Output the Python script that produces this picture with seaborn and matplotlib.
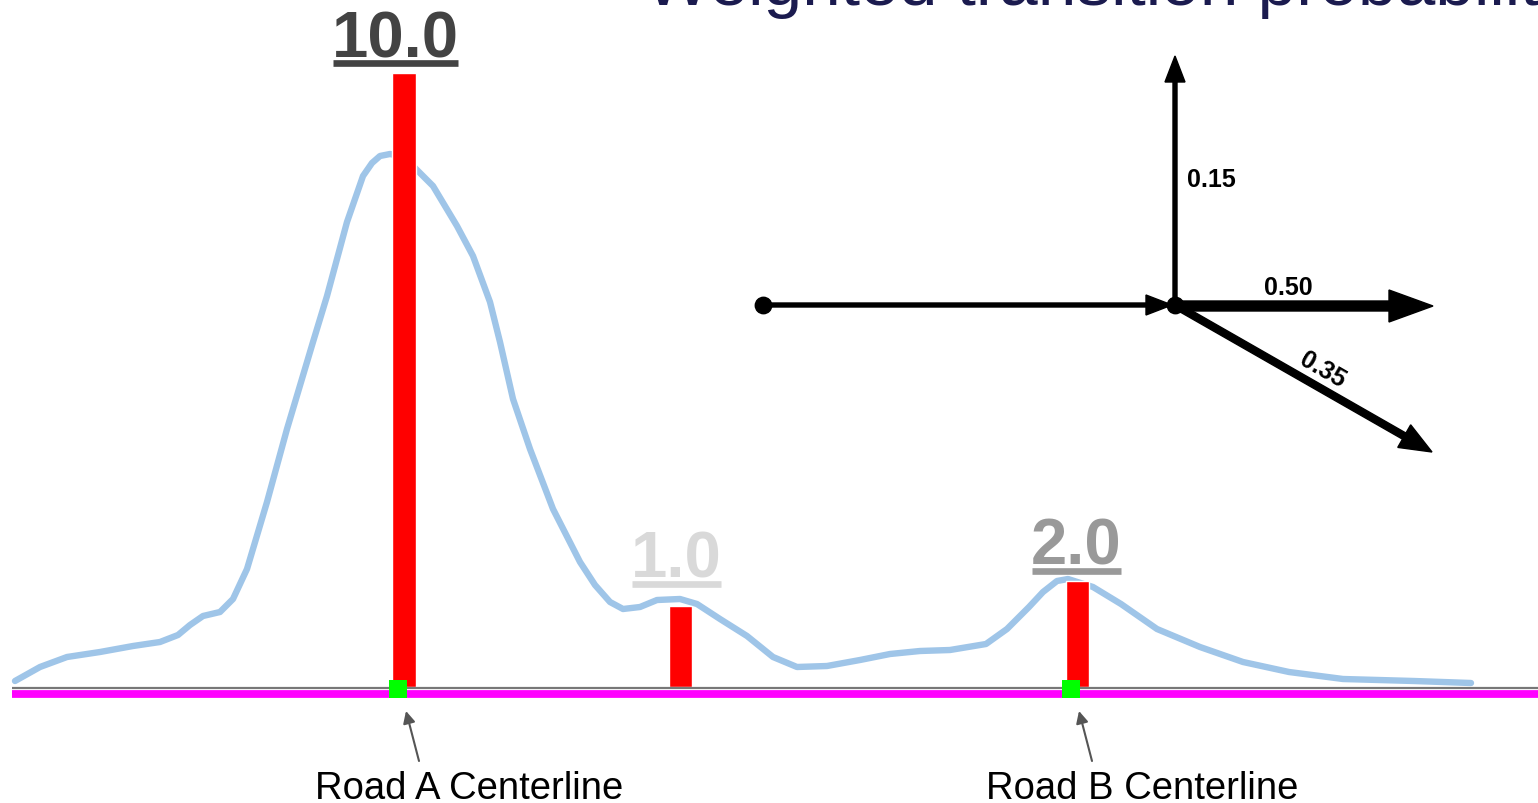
import numpy as np
import pandas as pd
import matplotlib
matplotlib.use('Agg')
import matplotlib.pyplot as plt
import seaborn as sns

# ---- data (pixel units, y grows downwards) ----
curve_x = [15, 40, 67, 100, 133, 160, 178, 190, 203, 220, 233, 247, 267, 287, 313, 327,
           347, 363, 372, 380, 390, 400, 413, 433, 457, 473, 490, 500, 513, 530, 553, 580,
           595, 610, 623, 640, 657, 680, 697, 720, 747, 773, 797, 827, 860, 890, 920, 950,
           986, 1007, 1029, 1043, 1057, 1068, 1093, 1121, 1157, 1200, 1243, 1289, 1343,
           1414, 1471]
curve_y = [682, 668, 658, 653, 647, 643, 636, 626, 617, 613, 600, 570, 503, 430, 343, 297,
           223, 177, 164, 157, 155, 157, 167, 187, 227, 257, 303, 343, 400, 450, 510, 563,
           586, 603, 610, 608, 601, 600, 605, 620, 637, 658, 668, 667, 661, 655, 652, 651,
           645, 630, 608, 593, 582, 580, 588, 605, 630, 648, 663, 673, 680,
           682, 684]

bar_x = [404, 680.5, 1077.5]
bar_top = [74, 607, 582]
bar_width = [24, 23, 23]
bar_labels = ['10.0', '1.0', '2.0']
label_colors = ['#434343', '#d9d9d9', '#999999']

road_x = [398, 1071]
road_names = ['Road A Centerline', 'Road B Centerline']

trans_labels = ['0.15', '0.50', '0.35']

# ---- layout ----
W, H = 1538, 804
baseline_y = 688
label_x = [395, 676, 1076]
label_y = [57, 578, 565]
underline_w = [125, 89, 89]

sns.set_style('white')
plt.rcParams['font.family'] = ['Liberation Sans', 'DejaVu Sans']
plt.rcParams['text.color'] = 'black'

fig = plt.figure(figsize=(W / 100, H / 100), dpi=100)
ax = fig.add_axes([0, 0, 1, 1])

# density curve
df_curve = pd.DataFrame({'x': curve_x, 'y': curve_y})
sns.lineplot(data=df_curve, x='x', y='y', sort=False, color='#9fc5e8',
             linewidth=4.6, ax=ax, zorder=2)
for ln in ax.get_lines():
    ln.set_solid_joinstyle('round')

# red bars
heights = [baseline_y - t for t in bar_top]
ax.bar(bar_x, heights, bottom=bar_top, width=bar_width, color='#ff0000', zorder=3)

# road line
ax.plot([12, W], [694.5, 694.5], color='#ff00ff', lw=5.6, solid_capstyle='butt', zorder=4)
ax.plot([12, W], [689, 689], color='#777777', lw=1.6, solid_capstyle='butt', zorder=4)

# centerline markers
sns.scatterplot(x=road_x, y=[690] * len(road_x), marker='s', s=175, color='#00ff00',
                edgecolor='none', ax=ax, zorder=5)

# value labels with underline
for x, y, lab, c, uw in zip(label_x, label_y, bar_labels, label_colors, underline_w):
    ax.text(x, y, lab, ha='center', va='baseline', fontsize=47, fontweight='bold', color=c)
    ax.plot([x - uw / 2, x + uw / 2], [y + 6.5, y + 6.5], color=c, lw=4.8,
            solid_capstyle='butt')

# road name annotations
for x, name in zip(road_x, road_names):
    ax.annotate('', xy=(x + 8, 712), xytext=(x + 21, 762),
                arrowprops=dict(arrowstyle='-|>', color='#555555', lw=1.5,
                                mutation_scale=18, shrinkA=0, shrinkB=0))
    ax.text(x + 71, 799, name, ha='center', va='baseline', fontsize=27.5, color='black')

# transition diagram
ax.arrow(763, 306, 409, 0, width=4, head_width=20, head_length=26,
         length_includes_head=True, color='black', zorder=6)
ax.arrow(1175, 306, 0, -249, width=4, head_width=20, head_length=26,
         length_includes_head=True, color='black', zorder=6)
ax.arrow(1175, 307, 258, 0, width=10, head_width=32, head_length=44,
         length_includes_head=True, color='black', zorder=6)
ax.arrow(1175, 306, 257, 147, width=7, head_width=26, head_length=32,
         length_includes_head=True, color='black', zorder=6)
ax.scatter([763, 1175], [306, 306], s=140, color='black', zorder=7)

ax.text(1187, 187, trans_labels[0], ha='left', va='baseline', fontsize=18,
        fontweight='bold', color='black')
ax.text(1288, 295, trans_labels[1], ha='center', va='baseline', fontsize=18,
        fontweight='bold', color='black')
ax.text(1323, 370, trans_labels[2], ha='center', va='center', fontsize=18,
        fontweight='bold', color='black', rotation=-30, rotation_mode='anchor')

# title, cropped at the top edge as in the original slide
ax.text(645, 5, 'Weighted transition probabilities', ha='left', va='baseline',
        fontsize=50, color='#1b1b4f')

ax.set_xlim(0, W)
ax.set_ylim(H, 0)
ax.axis('off')

fig.savefig('out.png', dpi=100)
